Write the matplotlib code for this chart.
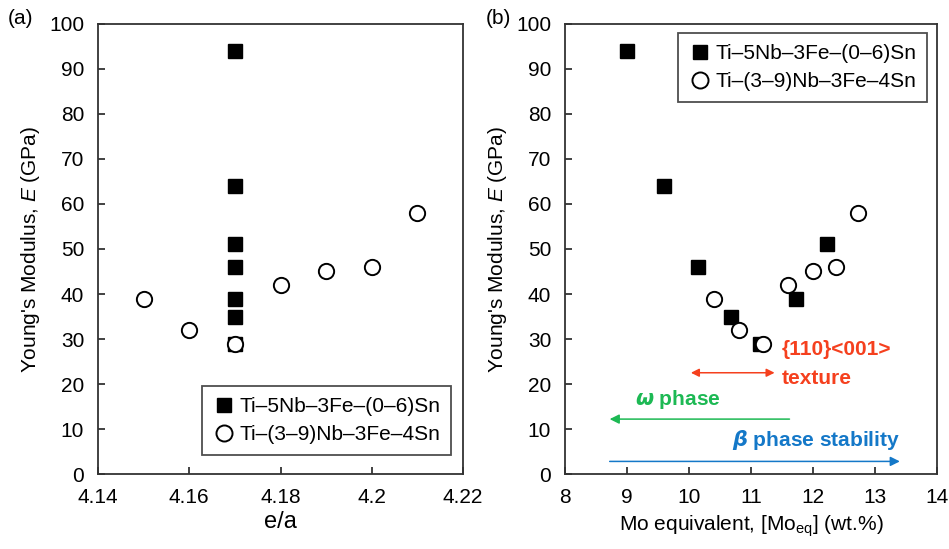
import matplotlib
matplotlib.use('Agg')
import matplotlib.pyplot as plt

plt.rcParams['font.family'] = ['Liberation Sans', 'DejaVu Sans']
plt.rcParams['mathtext.fontset'] = 'custom'
plt.rcParams['mathtext.rm'] = 'Liberation Sans'
plt.rcParams['mathtext.it'] = 'Liberation Sans:italic'
plt.rcParams['mathtext.bf'] = 'Liberation Sans:bold'

# Ti-5Nb-3Fe-(0-6)Sn series (filled squares)
sq_ea = [4.17, 4.17, 4.17, 4.17, 4.17, 4.17, 4.17]
sq_moeq = [9.0, 9.6, 10.15, 10.68, 11.15, 11.73, 12.22]
sq_E = [94, 64, 46, 35, 29, 39, 51]

# Ti-(3-9)Nb-3Fe-4Sn series (open circles)
ci_ea = [4.15, 4.16, 4.17, 4.18, 4.19, 4.20, 4.21]
ci_moeq = [10.4, 10.8, 11.2, 11.6, 12.0, 12.37, 12.72]
ci_E = [39, 32, 29, 42, 45, 46, 58]

labels = ['Ti\u20135Nb\u20133Fe\u2013(0\u20136)Sn', 'Ti\u2013(3\u20139)Nb\u20133Fe\u20134Sn']

RED = '#F5401E'
GREEN = '#1DB954'
BLUE = '#1478C8'

fig = plt.figure(figsize=(9.49, 5.49), dpi=100)
ax1 = fig.add_axes([0.1033, 0.1366, 0.3846, 0.8197])
ax2 = fig.add_axes([0.5954, 0.1366, 0.3920, 0.8197])


def style(ax):
    for s in ax.spines.values():
        s.set_linewidth(1.3)
        s.set_color('#333333')
    ax.tick_params(direction='in', length=5, width=1.3, labelsize=15,
                   color='#333333', pad=10)
    ax.set_ylim(0, 100)
    ax.set_yticks(range(0, 101, 10))
    ax.set_ylabel("Young's Modulus, $\\mathit{E}$ (GPa)", fontsize=15, labelpad=5)


def add_legend(ax, loc, anchor):
    leg = ax.legend(loc=loc, fontsize=15, frameon=True, fancybox=False,
                    edgecolor='#222222', borderpad=0.5, handletextpad=0.2,
                    handlelength=1.1, labelspacing=0.45, borderaxespad=0,
                    markerscale=1.05, bbox_to_anchor=anchor)
    leg.get_frame().set_linewidth(1.3)


# (a) vs e/a
ax1.plot(sq_ea, sq_E, 's', color='black', ms=9.5, label=labels[0], zorder=3)
ax1.plot(ci_ea, ci_E, 'o', mfc='white', mec='black', mew=1.4, ms=11,
         label=labels[1], zorder=4)
style(ax1)
ax1.set_xlim(4.14, 4.22)
ax1.set_xticks([4.14, 4.16, 4.18, 4.20, 4.22])
ax1.set_xticklabels(['4.14', '4.16', '4.18', '4.2', '4.22'])
ax1.set_xlabel('e/a', fontsize=17, labelpad=3)
add_legend(ax1, 'lower right', (0.968, 0.043))

# (b) vs Mo equivalent
ax2.plot(sq_moeq, sq_E, 's', color='black', ms=9.5, label=labels[0], zorder=3)
ax2.plot(ci_moeq, ci_E, 'o', mfc='white', mec='black', mew=1.4, ms=11,
         label=labels[1], zorder=4)
style(ax2)
ax2.set_xlim(8, 14)
ax2.set_xticks(range(8, 15))
ax2.set_xlabel('Mo equivalent, [Mo$_{\\mathrm{eq}}$] (wt.%)', fontsize=15, labelpad=5)
add_legend(ax2, 'upper right', (0.973, 0.979))

# annotations
ax2.annotate('', xy=(10.03, 22.5), xytext=(11.38, 22.5),
             arrowprops=dict(arrowstyle='<|-|>', color=RED, lw=1.1,
                             mutation_scale=12, shrinkA=0, shrinkB=0))
ax2.text(11.5, 27.6, '{110}<001>', color=RED, fontsize=15, fontweight='bold',
         va='center', ha='left')
ax2.text(11.5, 21.3, 'texture', color=RED, fontsize=15, fontweight='bold',
         va='center', ha='left')

ax2.annotate('', xy=(8.72, 12.2), xytext=(11.62, 12.2),
             arrowprops=dict(arrowstyle='-|>', color=GREEN, lw=1.1,
                             mutation_scale=14, shrinkA=0, shrinkB=0))
ax2.text(9.13, 16.6, '$\\boldsymbol{\\omega}$ phase', color=GREEN, fontsize=15,
         fontweight='bold', va='center', ha='left')

ax2.annotate('', xy=(13.4, 2.8), xytext=(8.72, 2.8),
             arrowprops=dict(arrowstyle='-|>', color=BLUE, lw=1.1,
                             mutation_scale=14, shrinkA=0, shrinkB=0))
ax2.text(10.7, 7.6, '$\\boldsymbol{\\beta}$ phase stability', color=BLUE,
         fontsize=15, fontweight='bold', va='center', ha='left')

fig.text(0.008, 0.966, '(a)', fontsize=15, va='center', ha='left')
fig.text(0.512, 0.966, '(b)', fontsize=15, va='center', ha='left')

fig.savefig('out.png', dpi=100)
